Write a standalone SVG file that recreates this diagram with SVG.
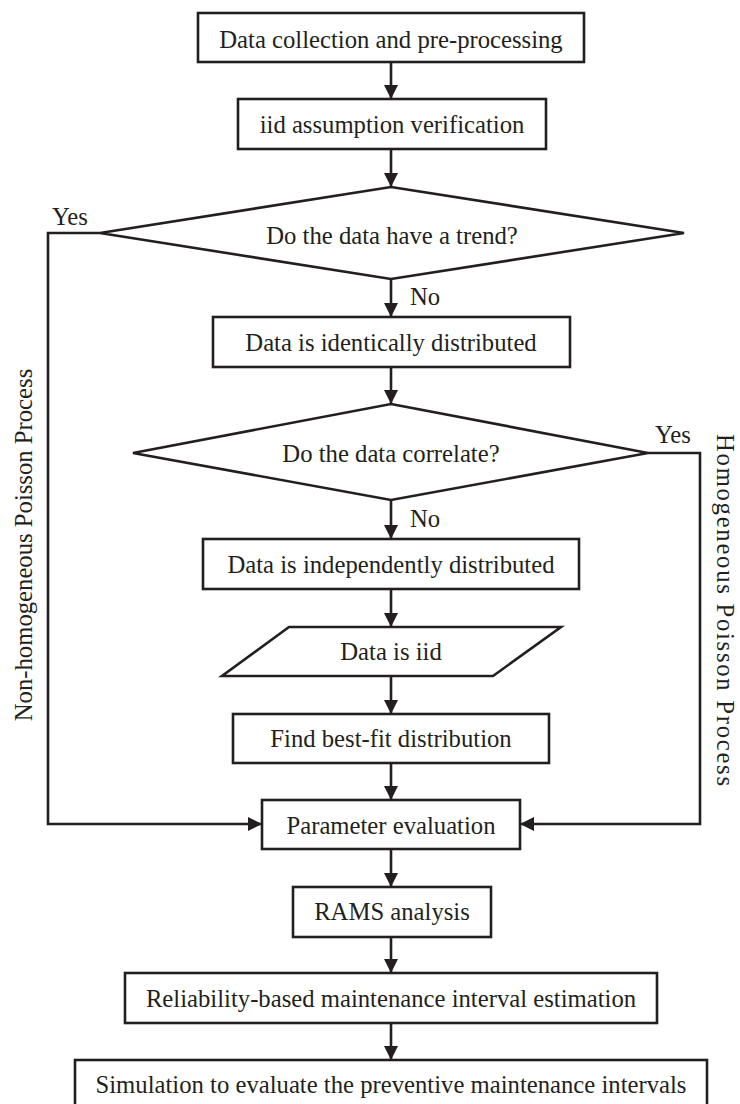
<svg xmlns="http://www.w3.org/2000/svg" width="740" height="1104" viewBox="0 0 740 1104">
<style>
.box{fill:#fff;stroke:#231f20;stroke-width:2.6}
.t{font-family:"Liberation Serif","Times New Roman",serif;font-size:24.7px;fill:#231f20;text-anchor:middle}
.lbl{font-family:"Liberation Serif","Times New Roman",serif;font-size:24.7px;fill:#231f20}
.c{fill:none;stroke:#231f20;stroke-width:2.6}
</style>
<defs>
<marker id="ah" markerWidth="14" markerHeight="14" viewBox="0 0 14 14" refX="13" refY="7" orient="auto" markerUnits="userSpaceOnUse">
<path d="M0,0 L14,7 L0,14 Z" fill="#231f20"/>
</marker>
</defs>
<rect width="740" height="1104" fill="#fff"/>
<g id="connectors">
<line class="c" x1="391" y1="62" x2="391" y2="98" marker-end="url(#ah)"/>
<line class="c" x1="391" y1="149" x2="391" y2="186" marker-end="url(#ah)"/>
<line class="c" x1="391" y1="279" x2="391" y2="316" marker-end="url(#ah)"/>
<line class="c" x1="391" y1="367" x2="391" y2="403" marker-end="url(#ah)"/>
<line class="c" x1="391" y1="500" x2="391" y2="538" marker-end="url(#ah)"/>
<line class="c" x1="391" y1="589" x2="391" y2="626" marker-end="url(#ah)"/>
<line class="c" x1="391" y1="676" x2="391" y2="713" marker-end="url(#ah)"/>
<line class="c" x1="391" y1="763" x2="391" y2="799" marker-end="url(#ah)"/>
<line class="c" x1="391" y1="849" x2="391" y2="886" marker-end="url(#ah)"/>
<line class="c" x1="391" y1="937" x2="391" y2="972" marker-end="url(#ah)"/>
<line class="c" x1="391" y1="1023" x2="391" y2="1059" marker-end="url(#ah)"/>
<polyline class="c" points="100,233 48,233 48,824 261,824" marker-end="url(#ah)"/>
<polyline class="c" points="648,453 700,453 700,824 521,824" marker-end="url(#ah)"/>
<text class="lbl" x="52" y="225">Yes</text>
<text class="lbl" x="410" y="305">No</text>
<text class="lbl" x="655" y="443">Yes</text>
<text class="lbl" x="410" y="527">No</text>
<text class="t" transform="translate(32,545) rotate(-90)">Non-homogeneous Poisson Process</text>
<text class="t" transform="translate(717,610) rotate(90)" textLength="352" lengthAdjust="spacing">Homogeneous Poisson Process</text>
</g>
<g id="n1"><rect class="box" x="198" y="13" width="386" height="49"/><text class="t" x="391" y="48">Data collection and pre-processing</text></g>
<g id="n2"><rect class="box" x="238" y="99" width="308" height="50"/><text class="t" x="392" y="133">iid assumption verification</text></g>
<g id="n3"><polygon class="box" points="391,187 684,233 391,279 100,233"/><text class="t" x="392" y="244">Do the data have a trend?</text></g>
<g id="n4"><rect class="box" x="213" y="317" width="357" height="50"/><text class="t" x="391" y="351">Data is identically distributed</text></g>
<g id="n5"><polygon class="box" points="391,404 648,453 391,500 133,453"/><text class="t" x="391" y="462">Do the data correlate?</text></g>
<g id="n6"><rect class="box" x="203" y="539" width="376" height="50"/><text class="t" x="391" y="573">Data is independently distributed</text></g>
<g id="n7"><polygon class="box" points="289,627 561,627 493,676 222,676"/><text class="t" x="391" y="660">Data is iid</text></g>
<g id="n8"><rect class="box" x="233" y="714" width="316" height="49"/><text class="t" x="391" y="747">Find best-fit distribution</text></g>
<g id="n9"><rect class="box" x="262" y="800" width="258" height="49"/><text class="t" x="391" y="834">Parameter evaluation</text></g>
<g id="n10"><rect class="box" x="293" y="887" width="198" height="50"/><text class="t" x="392" y="920">RAMS analysis</text></g>
<g id="n11"><rect class="box" x="125" y="973" width="532" height="50"/><text class="t" x="391" y="1007">Reliability-based maintenance interval estimation</text></g>
<g id="n12"><rect class="box" x="75" y="1060" width="632" height="52"/><text class="t" x="391" y="1093">Simulation to evaluate the preventive maintenance intervals</text></g>
</svg>
